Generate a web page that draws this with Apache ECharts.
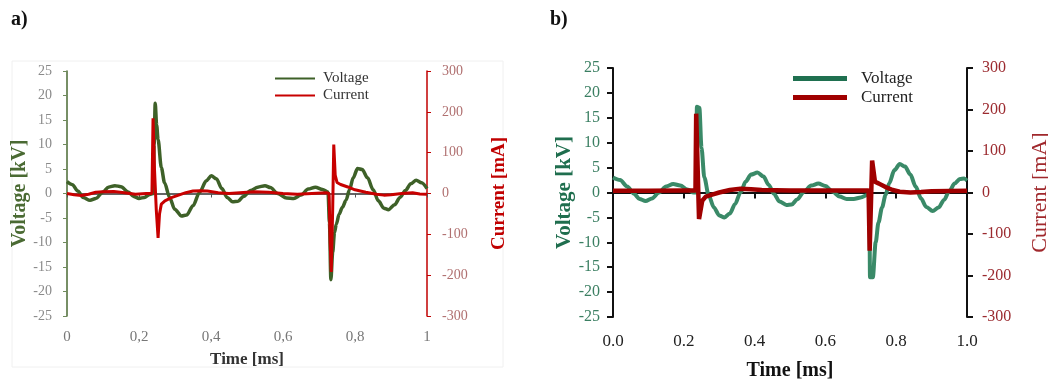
<!DOCTYPE html>
<html>
<head>
<meta charset="utf-8">
<script src="https://cdn.jsdelivr.net/npm/echarts@6/dist/echarts.min.js"></script>
<style>
  html, body {margin: 0; padding: 0; background: #fff;}
  #main {width: 1048px; height: 381px;}
</style>
</head>
<body>
<div id="main"></div>
<script>
// panel a) - voltage [kV] and current [mA] vs time [ms]
const timeVoltA = [0, 0.015, 0.03, 0.045, 0.064, 0.08, 0.1, 0.115, 0.133, 0.15, 0.17, 0.185, 0.2, 0.215, 0.23, 0.24,
    0.242, 0.245, 0.249, 0.253, 0.262, 0.271, 0.285, 0.299, 0.318, 0.332, 0.35, 0.368, 0.387, 0.401, 0.415, 0.43,
    0.445, 0.46, 0.475, 0.49, 0.51, 0.53, 0.55, 0.565, 0.585, 0.61, 0.63, 0.65, 0.67, 0.69, 0.71, 0.725, 0.729,
    0.733, 0.738, 0.743, 0.748, 0.756, 0.765, 0.775, 0.785, 0.795, 0.807, 0.82, 0.835, 0.85, 0.865, 0.88, 0.893,
    0.91, 0.925, 0.94, 0.955, 0.97, 0.985, 1]
const voltA = [2.4, 1.8, 0.5, -0.8, -1.4, -1.0, 0.3, 1.3, 1.6, 1.4, 0.3, -0.6, -1.0, -0.8, -0.2, 0.0,
    10.0, 18.4, 14.0, 11.0, 5.3, 2.2, -0.8, -3.2, -4.6, -4.4, -2.5, 0.2, 2.6, 3.6, 3.0, 1.0,
    -0.8, -1.7, -1.6, -0.6, 0.6, 1.3, 1.6, 1.2, 0.0, -0.9, -1.0, -0.3, 0.9, 1.3, 0.8, 0.3, -6.0,
    -17.6, -12.0, -8.0, -6.3, -4.2, -2.8, -1.4, 0.8, 3.2, 5.1, 4.9, 3.2, 0.8, -1.5, -3.0, -3.3,
    -2.3, -0.8, 0.6, 2.0, 2.7, 2.2, 1.0]
const timeCurrA = [0, 0.02, 0.04, 0.06, 0.08, 0.1, 0.13, 0.16, 0.19, 0.22, 0.236, 0.239, 0.243, 0.248, 0.253,
    0.257, 0.262, 0.272, 0.29, 0.31, 0.33, 0.35, 0.37, 0.39, 0.42, 0.45, 0.48, 0.52, 0.56, 0.6, 0.64, 0.68, 0.72,
    0.728, 0.731, 0.734, 0.738, 0.741, 0.745, 0.75, 0.76, 0.78, 0.8, 0.83, 0.86, 0.88, 0.9, 0.93, 0.96, 0.98, 1]
const currA = [0, -3, -5, -2, 3, 4, 5, 2, -2, 0, 0, 184, 60, -40, -109,
    -50, -26, -18, -10, -4, 2, 6, 7, 6, 2, 0, 2, 4, 3, 0, -2, 0, 2,
    0, -120, -192, -40, 120, 45, 27, 22, 16, 9, 3, -2, -4, -3, 0, 2, -1, -2]

// panel b)
const timeVoltB = [0, 0.02, 0.04, 0.06, 0.075, 0.092, 0.11, 0.13, 0.15, 0.17, 0.19, 0.21, 0.228, 0.235, 0.237,
    0.244, 0.25, 0.258, 0.27, 0.285, 0.3, 0.315, 0.33, 0.345, 0.36, 0.375, 0.39, 0.408, 0.425, 0.44, 0.455,
    0.47, 0.49, 0.505, 0.52, 0.54, 0.56, 0.58, 0.6, 0.62, 0.64, 0.66, 0.68, 0.7, 0.718, 0.724, 0.726,
    0.734, 0.742, 0.75, 0.76, 0.77, 0.78, 0.795, 0.81, 0.825, 0.84, 0.855, 0.87, 0.885, 0.903, 0.92,
    0.935, 0.95, 0.965, 0.98, 0.992, 1]
const voltB = [3.0, 2.5, 1.2, -0.3, -1.3, -1.7, -1.2, 0.0, 1.2, 1.7, 1.4, 0.6, 0.0, 0.0, 17.2,
    17.0, 9.0, 3.0, -0.5, -3.0, -4.6, -5.0, -4.2, -2.3, 0.0, 2.2, 3.6, 4.0, 3.2, 1.5, -0.3,
    -1.8, -2.5, -2.4, -1.4, 0.2, 1.4, 1.8, 1.3, 0.2, -0.8, -1.3, -1.3, -1.0, -0.5, -0.4, -17.0,
    -17.0, -10.0, -6.0, -3.0, -0.5, 1.8, 4.5, 5.7, 5.2, 3.6, 1.2, -1.2, -2.9, -3.7, -3.0,
    -1.5, 0.3, 1.8, 2.7, 2.8, 2.4]
const timeCurrB = [0, 0.1, 0.2, 0.233, 0.235, 0.24, 0.243, 0.248, 0.252, 0.262, 0.28, 0.3, 0.33, 0.36, 0.39,
    0.42, 0.5, 0.6, 0.7, 0.722, 0.725, 0.729, 0.732, 0.736, 0.74, 0.75, 0.77, 0.79, 0.81, 0.84, 0.87, 0.9, 1]
const currB = [4, 4, 5, 5, 190, 190, -64, -64, -20, -10, -5, 0, 6, 9, 8,
    6, 5, 5, 5, 5, -140, -140, 77, 77, 26, 22, 13, 6, 2, 0, 1, 3, 4]

const xTicks = [0, 0.2, 0.4, 0.6, 0.8, 1]

const pairs = (xs, ys) => xs.map((x, i) => [x, ys[i]])

const serif = 'Liberation Serif'
const chart = echarts.init(document.getElementById('main'))

chart.setOption({
    animation: false,
    backgroundColor: '#fff',
    textStyle: {fontFamily: serif},
    graphic: [
        {type: 'rect', shape: {x: 12, y: 61, width: 491, height: 306}, style: {fill: '#fff', stroke: '#f0f0f0', lineWidth: 1}, z: -10},
        {type: 'text', left: 11, top: 10, style: {text: 'a)', font: 'bold 20px "Liberation Serif"', fill: '#111'}},
        {type: 'text', left: 550, top: 10, style: {text: 'b)', font: 'bold 20px "Liberation Serif"', fill: '#111'}}
    ],
    legend: [
        {
            left: 275, top: 71, orient: 'vertical', icon: 'rect', padding: 0,
            itemWidth: 40, itemHeight: 2, itemGap: 2,
            textStyle: {fontFamily: serif, fontSize: 15, color: '#333', padding: [0, 0, 0, 3]},
            data: [
                {name: 'Voltage', itemStyle: {color: '#3e6128'}},
                {name: 'Current', itemStyle: {color: '#c80000'}}
            ]
        },
        {
            left: 793, top: 70, orient: 'vertical', icon: 'rect', padding: 0,
            itemWidth: 54, itemHeight: 5, itemGap: 2,
            textStyle: {fontFamily: serif, fontSize: 17, color: '#222', padding: [0, 0, 0, 9]},
            data: [
                {name: 'Voltage', itemStyle: {color: '#1f7050'}},
                {name: 'Current', itemStyle: {color: '#a00000'}}
            ]
        }
    ],
    grid: [
        {left: 67, top: 71, width: 360, height: 245, outerBoundsMode: 'none'},
        {left: 613, top: 68, width: 354, height: 249, outerBoundsMode: 'none'}
    ],
    xAxis: [
        {
            type: 'value', gridIndex: 0, min: 0, max: 1, interval: 0.2,
            name: 'Time [ms]', nameLocation: 'middle', nameGap: 35,
            nameTextStyle: {fontFamily: serif, fontSize: 17, fontWeight: 'bold', color: '#333'},
            axisLine: {lineStyle: {color: '#333', width: 1.5}},
            axisTick: {length: 4, lineStyle: {color: '#555'}},
            axisLabel: {
                margin: 14, fontSize: 15, color: '#777', fontFamily: serif,
                formatter: v => xTicks.includes(+v.toFixed(1)) ? String(+v.toFixed(1)).replace('.', ',') : ''
            },
            splitLine: {show: false}
        },
        {
            type: 'value', gridIndex: 1, min: 0, max: 1, interval: 0.2,
            name: 'Time [ms]', nameLocation: 'middle', nameGap: 44,
            nameTextStyle: {fontFamily: serif, fontSize: 20, fontWeight: 'bold', color: '#111'},
            axisLine: {lineStyle: {color: '#111', width: 2}},
            axisTick: {length: 6, lineStyle: {color: '#111', width: 2}},
            axisLabel: {margin: 16, fontSize: 17, color: '#222', fontFamily: serif, formatter: v => v.toFixed(1)},
            splitLine: {show: false}
        }
    ],
    yAxis: [
        {
            type: 'value', gridIndex: 0, min: -25, max: 25, interval: 5, position: 'left',
            name: 'Voltage [kV]', nameLocation: 'middle', nameRotate: 90, nameGap: 37,
            nameTextStyle: {fontFamily: serif, fontSize: 20, fontWeight: 'bold', color: '#4a6a33'},
            axisLine: {show: true, lineStyle: {color: '#4a6a33', width: 1.5}},
            axisTick: {show: true, length: 4, lineStyle: {color: '#6f8a5c'}},
            axisLabel: {margin: 15, fontSize: 14, color: '#8a8a8a', fontFamily: serif},
            splitLine: {show: false}
        },
        {
            type: 'value', gridIndex: 0, min: -300, max: 300, interval: 100, position: 'right',
            name: 'Current [mA]', nameLocation: 'middle', nameRotate: 90, nameGap: 63,
            nameTextStyle: {fontFamily: serif, fontSize: 19, fontWeight: 'bold', color: '#c00000'},
            axisLine: {show: true, lineStyle: {color: '#c00000', width: 1.5}},
            axisTick: {show: true, length: 4, lineStyle: {color: '#c00000'}},
            axisLabel: {margin: 15, fontSize: 14, color: '#b07070', fontFamily: serif},
            splitLine: {show: false}
        },
        {
            type: 'value', gridIndex: 1, min: -25, max: 25, interval: 5, position: 'left',
            name: 'Voltage [kV]', nameLocation: 'middle', nameRotate: 90, nameGap: 38,
            nameTextStyle: {fontFamily: serif, fontSize: 21, fontWeight: 'bold', color: '#1f6e4e'},
            axisLine: {show: true, lineStyle: {color: '#111', width: 2}},
            axisTick: {show: true, length: 6, lineStyle: {color: '#111', width: 2}},
            axisLabel: {margin: 13, fontSize: 16, color: '#3b7f62', fontFamily: serif},
            splitLine: {show: false}
        },
        {
            type: 'value', gridIndex: 1, min: -300, max: 300, interval: 100, position: 'right',
            name: 'Current [mA]', nameLocation: 'middle', nameRotate: 90, nameGap: 62,
            nameTextStyle: {fontFamily: serif, fontSize: 22, color: '#a0282c'},
            axisLine: {show: true, lineStyle: {color: '#111', width: 2}},
            axisTick: {show: true, length: 6, lineStyle: {color: '#111', width: 2}},
            axisLabel: {margin: 15, fontSize: 16, color: '#9b2a2f', fontFamily: serif},
            splitLine: {show: false}
        }
    ],
    series: [
        {
            name: 'Voltage', type: 'line', xAxisIndex: 0, yAxisIndex: 0, showSymbol: false,
            smooth: 0.3, smoothMonotone: 'x',
            data: pairs(timeVoltA, voltA),
            lineStyle: {color: '#3e6128', width: 3.5}, itemStyle: {color: '#3e6128'}
        },
        {
            name: 'Current', type: 'line', xAxisIndex: 0, yAxisIndex: 1, showSymbol: false,
            data: pairs(timeCurrA, currA),
            lineStyle: {color: '#c80000', width: 3}, itemStyle: {color: '#c80000'}
        },
        {
            name: 'Voltage', type: 'line', xAxisIndex: 1, yAxisIndex: 2, showSymbol: false,
            smooth: 0.3, smoothMonotone: 'x',
            data: pairs(timeVoltB, voltB),
            lineStyle: {color: '#3a8a68', width: 4}, itemStyle: {color: '#1f7050'}
        },
        {
            name: 'Current', type: 'line', xAxisIndex: 1, yAxisIndex: 3, showSymbol: false,
            data: pairs(timeCurrB, currB),
            lineStyle: {color: '#a00000', width: 4.5}, itemStyle: {color: '#a00000'}
        }
    ]
})
</script>
</body>
</html>
